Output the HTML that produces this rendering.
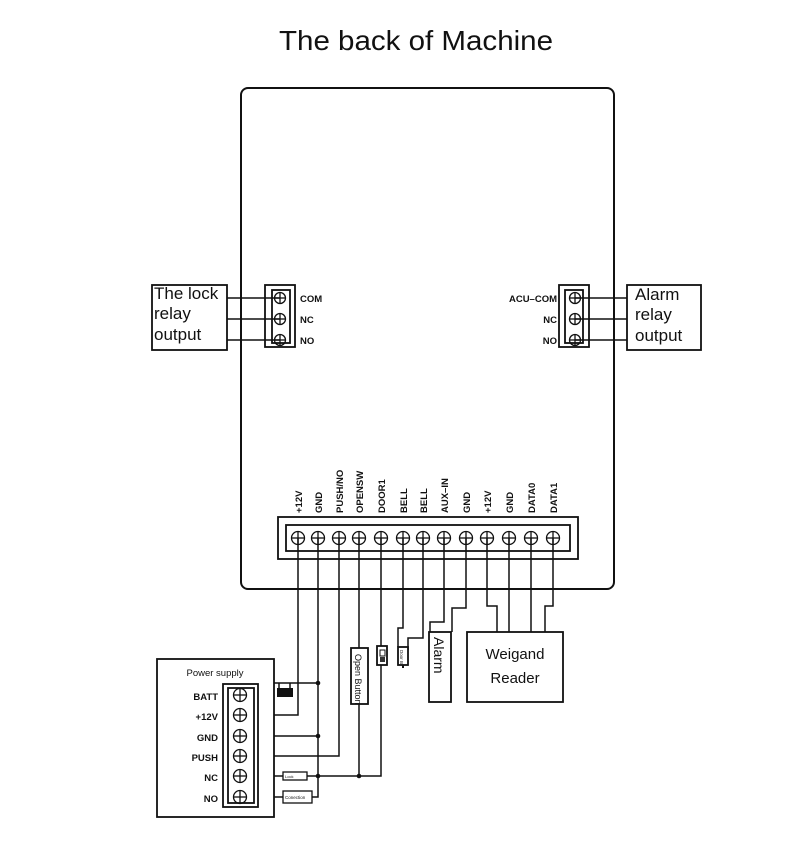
<!DOCTYPE html>
<html><head><meta charset="utf-8"><style>
html,body{margin:0;padding:0;background:#fff;}
svg{display:block;}
text{font-family:"Liberation Sans",sans-serif;fill:#111;}
.b{font-weight:bold;font-size:9.5px;}
</style></head><body>
<svg width="800" height="851" viewBox="0 0 800 851" xmlns="http://www.w3.org/2000/svg">
<defs>
<g id="s"><circle r="6.5" fill="none" stroke="#111" stroke-width="1.3"/><line x1="-6.5" y1="0" x2="6.5" y2="0" stroke="#111" stroke-width="1.3"/><line x1="0" y1="-6.5" x2="0" y2="6.5" stroke="#111" stroke-width="1.3"/></g>
<g id="ss"><circle r="5.5" fill="none" stroke="#111" stroke-width="1.3"/><line x1="-5.5" y1="0" x2="5.5" y2="0" stroke="#111" stroke-width="1.3"/><line x1="0" y1="-5.5" x2="0" y2="5.5" stroke="#111" stroke-width="1.3"/></g>
</defs>
<text x="416" y="50" font-size="28" text-anchor="middle" textLength="274" lengthAdjust="spacingAndGlyphs">The back of Machine</text>
<g fill="none" stroke="#111" stroke-width="2">
<rect x="241" y="88" width="373" height="501" rx="7"/>
</g>
<g fill="none" stroke="#111" stroke-width="1.8">
<rect x="152" y="285" width="75" height="65"/>
<rect x="265" y="285" width="30" height="62"/>
<rect x="272" y="290" width="18" height="53"/>
<rect x="559" y="285" width="30" height="62"/>
<rect x="565" y="290" width="18" height="53"/>
<rect x="627" y="285" width="74" height="65"/>
</g>
<g stroke="#111" stroke-width="1.5">
<line x1="227" y1="298" x2="280" y2="298"/><line x1="227" y1="319" x2="280" y2="319"/><line x1="227" y1="340" x2="280" y2="340"/>
<line x1="575" y1="298" x2="627" y2="298"/><line x1="575" y1="319" x2="627" y2="319"/><line x1="575" y1="340" x2="627" y2="340"/>
</g>
<use href="#ss" x="280" y="298"/><use href="#ss" x="280" y="319"/><use href="#ss" x="280" y="340"/>
<use href="#ss" x="575" y="298"/><use href="#ss" x="575" y="319"/><use href="#ss" x="575" y="340"/>
<text x="154" y="299" font-size="17">The lock</text>
<text x="154" y="319" font-size="17">relay</text>
<text x="154" y="340" font-size="17">output</text>
<text x="635" y="300" font-size="17">Alarm</text>
<text x="635" y="320" font-size="17">relay</text>
<text x="635" y="341" font-size="17">output</text>
<text x="300" y="302" class="b" font-size="9">COM</text>
<text x="300" y="323" class="b">NC</text>
<text x="300" y="344" class="b">NO</text>
<text x="557" y="302" class="b" text-anchor="end">ACU–COM</text>
<text x="557" y="323" class="b" text-anchor="end">NC</text>
<text x="557" y="344" class="b" text-anchor="end">NO</text>
<g fill="none" stroke="#111" stroke-width="1.8">
<rect x="278" y="517" width="300" height="42"/>
<rect x="286" y="525" width="284" height="26"/>
</g>
<g>
<use href="#s" x="298" y="538"/><use href="#s" x="318" y="538"/><use href="#s" x="339" y="538"/><use href="#s" x="359" y="538"/>
<use href="#s" x="381" y="538"/><use href="#s" x="403" y="538"/><use href="#s" x="423" y="538"/><use href="#s" x="444" y="538"/>
<use href="#s" x="466" y="538"/><use href="#s" x="487" y="538"/><use href="#s" x="509" y="538"/><use href="#s" x="531" y="538"/><use href="#s" x="553" y="538"/>
</g>
<g class="b">
<text transform="translate(302,513) rotate(-90)">+12V</text>
<text transform="translate(322,513) rotate(-90)">GND</text>
<text transform="translate(343,513) rotate(-90)">PUSH/NO</text>
<text transform="translate(363,513) rotate(-90)">OPENSW</text>
<text transform="translate(385,513) rotate(-90)">DOOR1</text>
<text transform="translate(407,513) rotate(-90)">BELL</text>
<text transform="translate(427,513) rotate(-90)">BELL</text>
<text transform="translate(448,513) rotate(-90)">AUX–IN</text>
<text transform="translate(470,513) rotate(-90)">GND</text>
<text transform="translate(491,513) rotate(-90)">+12V</text>
<text transform="translate(513,513) rotate(-90)">GND</text>
<text transform="translate(535,513) rotate(-90)">DATA0</text>
<text transform="translate(557,513) rotate(-90)">DATA1</text>
</g>
<g fill="none" stroke="#111" stroke-width="1.5">
<polyline points="298,538 298,715 240,715"/>
<polyline points="318,538 318,797 312,797"/>
<polyline points="339,538 339,756 240,756"/>
<polyline points="359,538 359,648"/><line x1="359" y1="704" x2="359" y2="776"/>
<polyline points="381,538 381,776 307,776"/>
<line x1="283" y1="776" x2="240" y2="776"/>
<line x1="283" y1="797" x2="240" y2="797"/>
<line x1="240" y1="736" x2="318" y2="736"/>
<line x1="228" y1="683" x2="318" y2="683"/>
<line x1="279" y1="683" x2="279" y2="688"/><line x1="290" y1="683" x2="290" y2="688"/>
<polyline points="403,538 403,628 398,628 398,647"/>
<polyline points="423,538 423,638 408,638 408,650"/>
<polyline points="444,538 444,622 430,622 430,632"/>
<polyline points="466,538 466,608 452,608 452,632"/>
<polyline points="487,538 487,606 497,606 497,632"/>
<line x1="509" y1="538" x2="509" y2="632"/>
<line x1="531" y1="538" x2="531" y2="632"/>
<polyline points="553,538 553,606 545,606 545,632"/>
</g>
<rect x="277" y="688" width="16" height="9" fill="#111"/>
<g fill="#111"><circle cx="318" cy="683" r="2.3"/><circle cx="318" cy="736" r="2.3"/><circle cx="318" cy="776" r="2.3"/><circle cx="359" cy="776" r="2.3"/></g>
<g fill="#fff" stroke="#111" stroke-width="1.8">
<rect x="351" y="648" width="17" height="56"/>
<rect x="377" y="646" width="10" height="19"/>
<rect x="398" y="647" width="10" height="18"/>
<rect x="429" y="632" width="22" height="70"/>
<rect x="467" y="632" width="96" height="70"/>
<rect x="157" y="659" width="117" height="158"/>
<rect x="223" y="684" width="35" height="123"/>
<rect x="228" y="688" width="26" height="115" fill="none"/>
<rect x="283" y="772" width="24" height="8" stroke-width="1.3"/>
<rect x="283" y="791" width="29" height="12" stroke-width="1.3"/>
</g>
<rect x="380" y="650" width="5" height="6" fill="none" stroke="#111" stroke-width="1"/>
<rect x="380" y="657" width="5" height="5" fill="#333"/>
<rect x="402" y="665" width="2" height="3" fill="#111"/>
<text transform="translate(355,654) rotate(90)" font-size="9">Open Button</text>
<text transform="translate(400,650) rotate(90)" font-size="4.5">Door B</text>
<text transform="translate(434,637) rotate(90)" font-size="14">Alarm</text>
<text x="515" y="659" font-size="15" text-anchor="middle">Weigand</text>
<text x="515" y="683" font-size="15" text-anchor="middle">Reader</text>
<text x="215" y="676" font-size="9.5" text-anchor="middle" fill="#444">Power supply</text>
<g>
<use href="#s" x="240" y="695"/><use href="#s" x="240" y="715"/><use href="#s" x="240" y="736"/>
<use href="#s" x="240" y="756"/><use href="#s" x="240" y="776"/><use href="#s" x="240" y="797"/>
</g>
<g class="b" text-anchor="end">
<text x="218" y="700">BATT</text>
<text x="218" y="720">+12V</text>
<text x="218" y="741">GND</text>
<text x="218" y="761">PUSH</text>
<text x="218" y="781">NC</text>
<text x="218" y="802">NO</text>
</g>
<text x="285" y="778" font-size="4">Lock</text>
<text x="285" y="799" font-size="4.5">Conection</text>
</svg>
</body></html>
